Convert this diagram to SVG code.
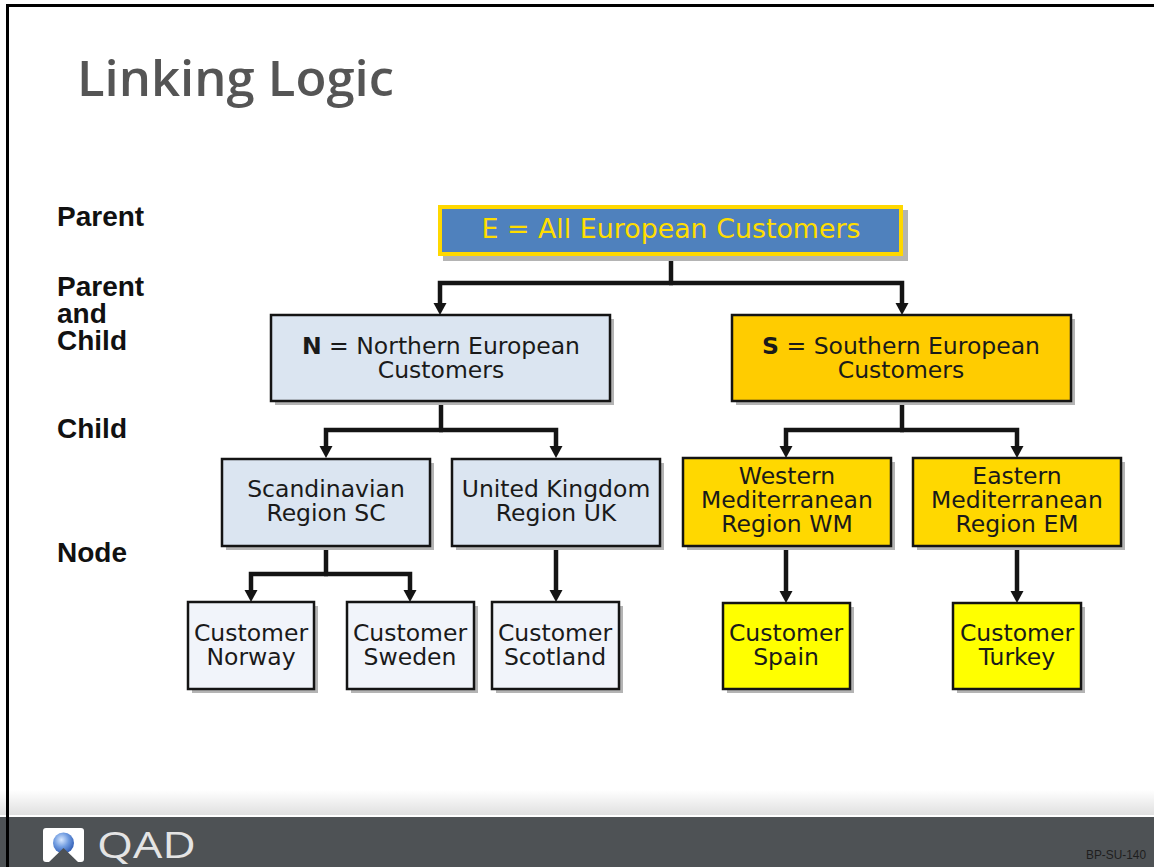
<svg xmlns="http://www.w3.org/2000/svg" width="1154" height="867" viewBox="0 0 1154 867">
<style>
.lbl{font-family:"Liberation Sans",Arial,sans-serif;font-weight:bold;font-size:28px;fill:#111}
.bt{font-family:"DejaVu Sans","Noto Sans",sans-serif;font-size:23.5px;fill:#1a1a1a;text-anchor:middle}
.box{stroke:#141414;stroke-width:2.5}
.sh{fill:#b4b4b4}
.blue{fill:#dbe5f1}
.pale{fill:#f1f4fa}
.gold{fill:#ffcc00}
.yel{fill:#ffd800}
.lem{fill:#ffff00}
.con{fill:none;stroke:#141414;stroke-width:4.5;stroke-linejoin:miter;marker-end:url(#arr)}
.ln{fill:none;stroke:#141414;stroke-width:4.5}
</style>
<defs>
<marker id="arr" markerUnits="userSpaceOnUse" markerWidth="14" markerHeight="14" refX="2" refY="6.5" orient="auto">
<path d="M0,0 L12,6.5 L0,13 Z" fill="#141414"/>
</marker>
<linearGradient id="fade" x1="0" y1="0" x2="0" y2="1">
<stop offset="0" stop-color="#ffffff"/>
<stop offset="1" stop-color="#e0e0e0"/>
</linearGradient>
<radialGradient id="ball" cx="0.4" cy="0.35" r="0.7">
<stop offset="0" stop-color="#d8e8ff"/>
<stop offset="0.5" stop-color="#6f9be0"/>
<stop offset="1" stop-color="#2c58b0"/>
</radialGradient>
</defs>
<rect width="1154" height="867" fill="#ffffff"/>
<!-- footer -->
<g id="footer">
<rect x="0" y="790" width="1154" height="25" fill="url(#fade)"/>
<rect x="0" y="815" width="1154" height="2" fill="#ffffff"/>
<rect x="0" y="817" width="1154" height="50" fill="#4e5255"/>
<rect x="43" y="828" width="41" height="34" rx="3" fill="#ffffff"/>
<circle cx="63.5" cy="843" r="10.5" fill="url(#ball)"/>
<path d="M49,862 L63.5,848 L78,862 Z" fill="#4e5255"/>
<text x="97" y="858" font-family="'Open Sans','Noto Sans',sans-serif" font-size="37" fill="#e4e4e4" textLength="99" lengthAdjust="spacingAndGlyphs">QAD</text>
<text x="1146" y="859" font-family="'Liberation Sans',Arial,sans-serif" font-size="12" fill="#1e1e1e" text-anchor="end" textLength="60" lengthAdjust="spacingAndGlyphs">BP-SU-140</text>
</g>
<!-- frame -->
<path d="M7.5,867 V5.5 H1154" fill="none" stroke="#000" stroke-width="3"/>
<!-- title -->
<text x="77" y="96" font-family="'Open Sans','Noto Sans',sans-serif" font-weight="600" font-size="49" fill="#555555" textLength="317" lengthAdjust="spacingAndGlyphs">Linking Logic</text>
<!-- side labels -->
<g id="labels">
<text class="lbl" x="57" y="226">Parent</text>
<text class="lbl" x="57" y="296">Parent<tspan x="57" dy="27">and</tspan><tspan x="57" dy="27">Child</tspan></text>
<text class="lbl" x="57" y="438">Child</text>
<text class="lbl" x="57" y="562">Node</text>
</g>
<!-- connectors -->
<g id="connectors">
<path class="ln" d="M671,256 V283"/>
<path class="con" d="M673,283 H440 V305"/>
<path class="con" d="M669,283 H902 V305"/>
<path class="ln" d="M441,401 V430"/>
<path class="con" d="M443,430 H326 V448"/>
<path class="con" d="M439,430 H556 V448"/>
<path class="ln" d="M902,401 V430"/>
<path class="con" d="M904,430 H786 V448"/>
<path class="con" d="M900,430 H1017 V448"/>
<path class="ln" d="M326,546 V574"/>
<path class="con" d="M328,574 H251 V592"/>
<path class="con" d="M324,574 H410 V592"/>
<path class="con" d="M556,546 V592"/>
<path class="con" d="M786,546 V593"/>
<path class="con" d="M1017,546 V593"/>
</g>
<!-- nodes -->
<g id="node-E">
<rect class="sh" x="443" y="210" width="465" height="51"/>
<rect x="440" y="207" width="461" height="47" fill="#4f81bd" stroke="#ffd800" stroke-width="4"/>
<text x="671" y="238" font-family="'DejaVu Sans','Noto Sans',sans-serif" font-size="26" fill="#ffdd00" text-anchor="middle" textLength="379" lengthAdjust="spacingAndGlyphs">E = All European Customers</text>
</g>
<g id="node-N">
<rect class="sh" x="275" y="319" width="339" height="86"/>
<rect class="box blue" x="271" y="315" width="339" height="86"/>
<text class="bt" x="441" y="354"><tspan font-weight="bold">N</tspan> = Northern European<tspan x="441" dy="24">Customers</tspan></text>
</g>
<g id="node-S">
<rect class="sh" x="736" y="319" width="339" height="86"/>
<rect class="box gold" x="732" y="315" width="339" height="86"/>
<text class="bt" x="901" y="354"><tspan font-weight="bold">S</tspan> = Southern European<tspan x="901" dy="24">Customers</tspan></text>
</g>
<g id="node-SC">
<rect class="sh" x="226" y="463" width="208" height="87"/>
<rect class="box blue" x="222" y="459" width="208" height="87"/>
<text class="bt" x="326" y="497">Scandinavian<tspan x="326" dy="24">Region SC</tspan></text>
</g>
<g id="node-UK">
<rect class="sh" x="456" y="463" width="208" height="87"/>
<rect class="box blue" x="452" y="459" width="208" height="87"/>
<text class="bt" x="556" y="497">United Kingdom<tspan x="556" dy="24">Region UK</tspan></text>
</g>
<g id="node-WM">
<rect class="sh" x="687" y="462" width="208" height="88"/>
<rect class="box yel" x="683" y="458" width="208" height="88"/>
<text class="bt" x="787" y="484">Western<tspan x="787" dy="24">Mediterranean</tspan><tspan x="787" dy="24">Region WM</tspan></text>
</g>
<g id="node-EM">
<rect class="sh" x="917" y="462" width="208" height="88"/>
<rect class="box yel" x="913" y="458" width="208" height="88"/>
<text class="bt" x="1017" y="484">Eastern<tspan x="1017" dy="24">Mediterranean</tspan><tspan x="1017" dy="24">Region EM</tspan></text>
</g>
<g id="node-Norway">
<rect class="sh" x="192" y="606" width="126" height="87"/>
<rect class="box pale" x="188" y="602" width="126" height="87"/>
<text class="bt" x="251" y="641">Customer<tspan x="251" dy="24">Norway</tspan></text>
</g>
<g id="node-Sweden">
<rect class="sh" x="351" y="606" width="127" height="87"/>
<rect class="box pale" x="347" y="602" width="127" height="87"/>
<text class="bt" x="410" y="641">Customer<tspan x="410" dy="24">Sweden</tspan></text>
</g>
<g id="node-Scotland">
<rect class="sh" x="496" y="606" width="127" height="87"/>
<rect class="box pale" x="492" y="602" width="127" height="87"/>
<text class="bt" x="555" y="641">Customer<tspan x="555" dy="24">Scotland</tspan></text>
</g>
<g id="node-Spain">
<rect class="sh" x="727" y="607" width="127" height="86"/>
<rect class="box lem" x="723" y="603" width="127" height="86"/>
<text class="bt" x="786" y="641">Customer<tspan x="786" dy="24">Spain</tspan></text>
</g>
<g id="node-Turkey">
<rect class="sh" x="957" y="607" width="128" height="86"/>
<rect class="box lem" x="953" y="603" width="128" height="86"/>
<text class="bt" x="1017" y="641">Customer<tspan x="1017" dy="24">Turkey</tspan></text>
</g>
</svg>
